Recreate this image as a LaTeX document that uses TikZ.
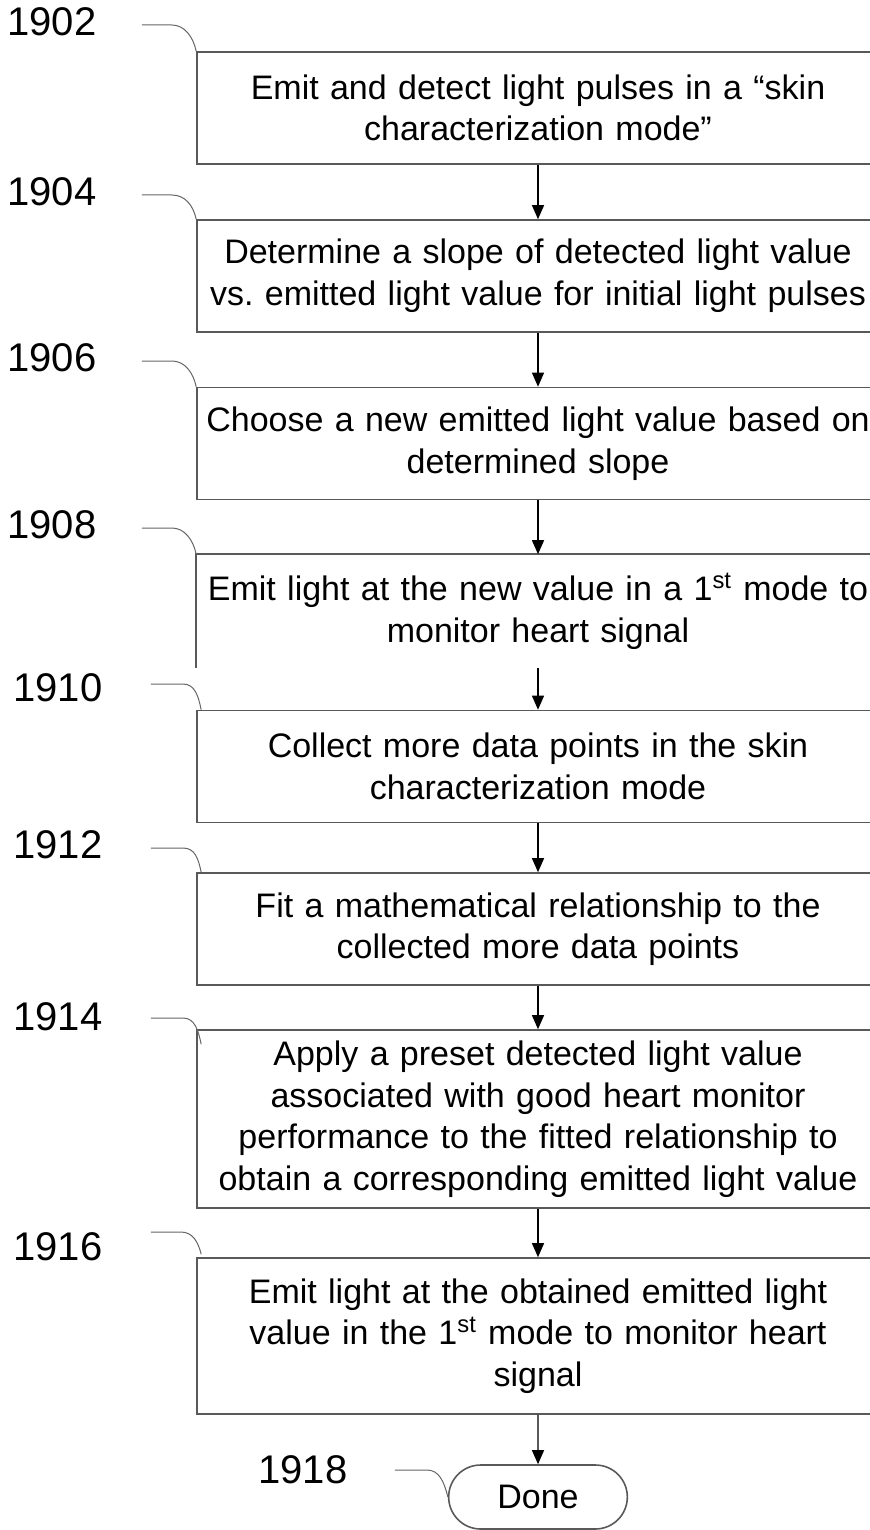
\documentclass[tikz,border=0pt]{standalone}
\usepackage{fontspec}
\setmainfont{Liberation Sans}
\frenchspacing
\usetikzlibrary{arrows.meta,positioning,shapes.misc}

\tikzset{
  stepbox/.style={draw=black!65, line width=0.8pt, minimum width=341pt, minimum height=56pt,
    text width=338pt, align=center, inner sep=0pt, font=\fontsize{17}{20.8}\selectfont},
  reflabel/.style={font=\fontsize{20}{22}\selectfont, inner sep=0pt},
  leader/.style={draw=black!60, line width=0.5pt},
  flow/.style={-{Triangle[width=6pt,length=7pt]}, line width=0.6pt}
}

\begin{document}
\begin{tikzpicture}[x=0.5pt,y=-0.5pt]
        \useasboundingbox (0,0) rectangle (870,1530);
        \clip (0,0) rectangle (870,1530);
        % Schritte
        \node[stepbox] (b1902) at (538,108) {Emit and detect light pulses in a “skin\\characterization mode”};
        \node[stepbox] (b1904) at (538,276) {Determine a slope of detected light value\\vs. emitted light value for initial light pulses};
        \node[stepbox] (b1906) at (538,443.5) {Choose a new emitted light value based on\\determined slope};
        \node[stepbox, draw=none] (b1908) at (538,611) {Emit light at the new value in a 1\textsuperscript{st} mode to\\monitor heart signal};
        \draw[draw=black!65, line width=0.8pt] (b1908.north east) -- (b1908.north west) -- (b1908.south west);
        \node[stepbox] (b1910) at (538,766.5) {Collect more data points in the skin\\characterization mode};
        \node[stepbox] (b1912) at (538,929) {Fit a mathematical relationship to the\\collected more data points};
        \node[stepbox, minimum height=89pt] (b1914) at (538,1119) {Apply a preset detected light value\\associated with good heart monitor\\performance to the fitted relationship to\\obtain a corresponding emitted light value};
        \node[stepbox, minimum height=78pt] (b1916) at (538,1336) {Emit light at the obtained emitted light\\value in the 1\textsuperscript{st} mode to monitor heart\\signal};
        \node[draw=black!65, line width=0.8pt, rounded rectangle, minimum width=96pt, minimum height=32pt,
          font=\fontsize{17}{20.8}\selectfont] (done) at (538,1497) {Done};
        % Pfeile
        \foreach \a/\b in {1902/1904,1904/1906,1906/1908,1908/1910,1910/1912,1912/1914,1914/1916}
          \draw[flow] (b\a) -- (b\b);
        \draw[flow] (b1916) -- (done);
        % Bezugszeichen
        \node[reflabel] (l1902) at (52,22) {1902};
        \node[reflabel] (l1904) at (52,192) {1904};
        \node[reflabel] (l1906) at (52,358) {1906};
        \node[reflabel] (l1908) at (52,525) {1908};
        \node[reflabel] (l1910) at (58,688) {1910};
        \node[reflabel] (l1912) at (58,845) {1912};
        \node[reflabel] (l1914) at (58,1017) {1914};
        \node[reflabel] (l1916) at (58,1247) {1916};
        \node[reflabel] (l1918) at (303,1470) {1918};
        \foreach \n in {1902,1904,1906,1908}
          \draw[leader] ([shift={(45,3)}]l\n.east) -- ++(30,0) .. controls +(13,0) and +(-3,-14) .. (b\n.north west);
        \draw[leader] ([shift={(48,-4)}]l1910.east) -- ++(32,0) .. controls +(12,0) and +(-3,-14) .. ([shift={(5,0)}]b1910.north west);
        \draw[leader] ([shift={(48,3)}]l1912.east) -- ++(32,0) .. controls +(12,0) and +(-3,-14) .. ([shift={(5,0)}]b1912.north west);
        \draw[leader] ([shift={(48,1)}]l1914.east) -- ++(32,0) .. controls +(12,0) and +(-3,-14) .. ([shift={(5,15)}]b1914.north west);
        \draw[leader] ([shift={(48,-15)}]l1916.east) -- ++(30,0) .. controls +(12,0) and +(-3,-12) .. ([shift={(5,-3)}]b1916.north west);
        \draw[leader] ([shift={(47,0)}]l1918.east) -- ++(32,0) .. controls +(12,0) and +(-4,-16) .. (done.west);
      \end{tikzpicture}
\end{document}
